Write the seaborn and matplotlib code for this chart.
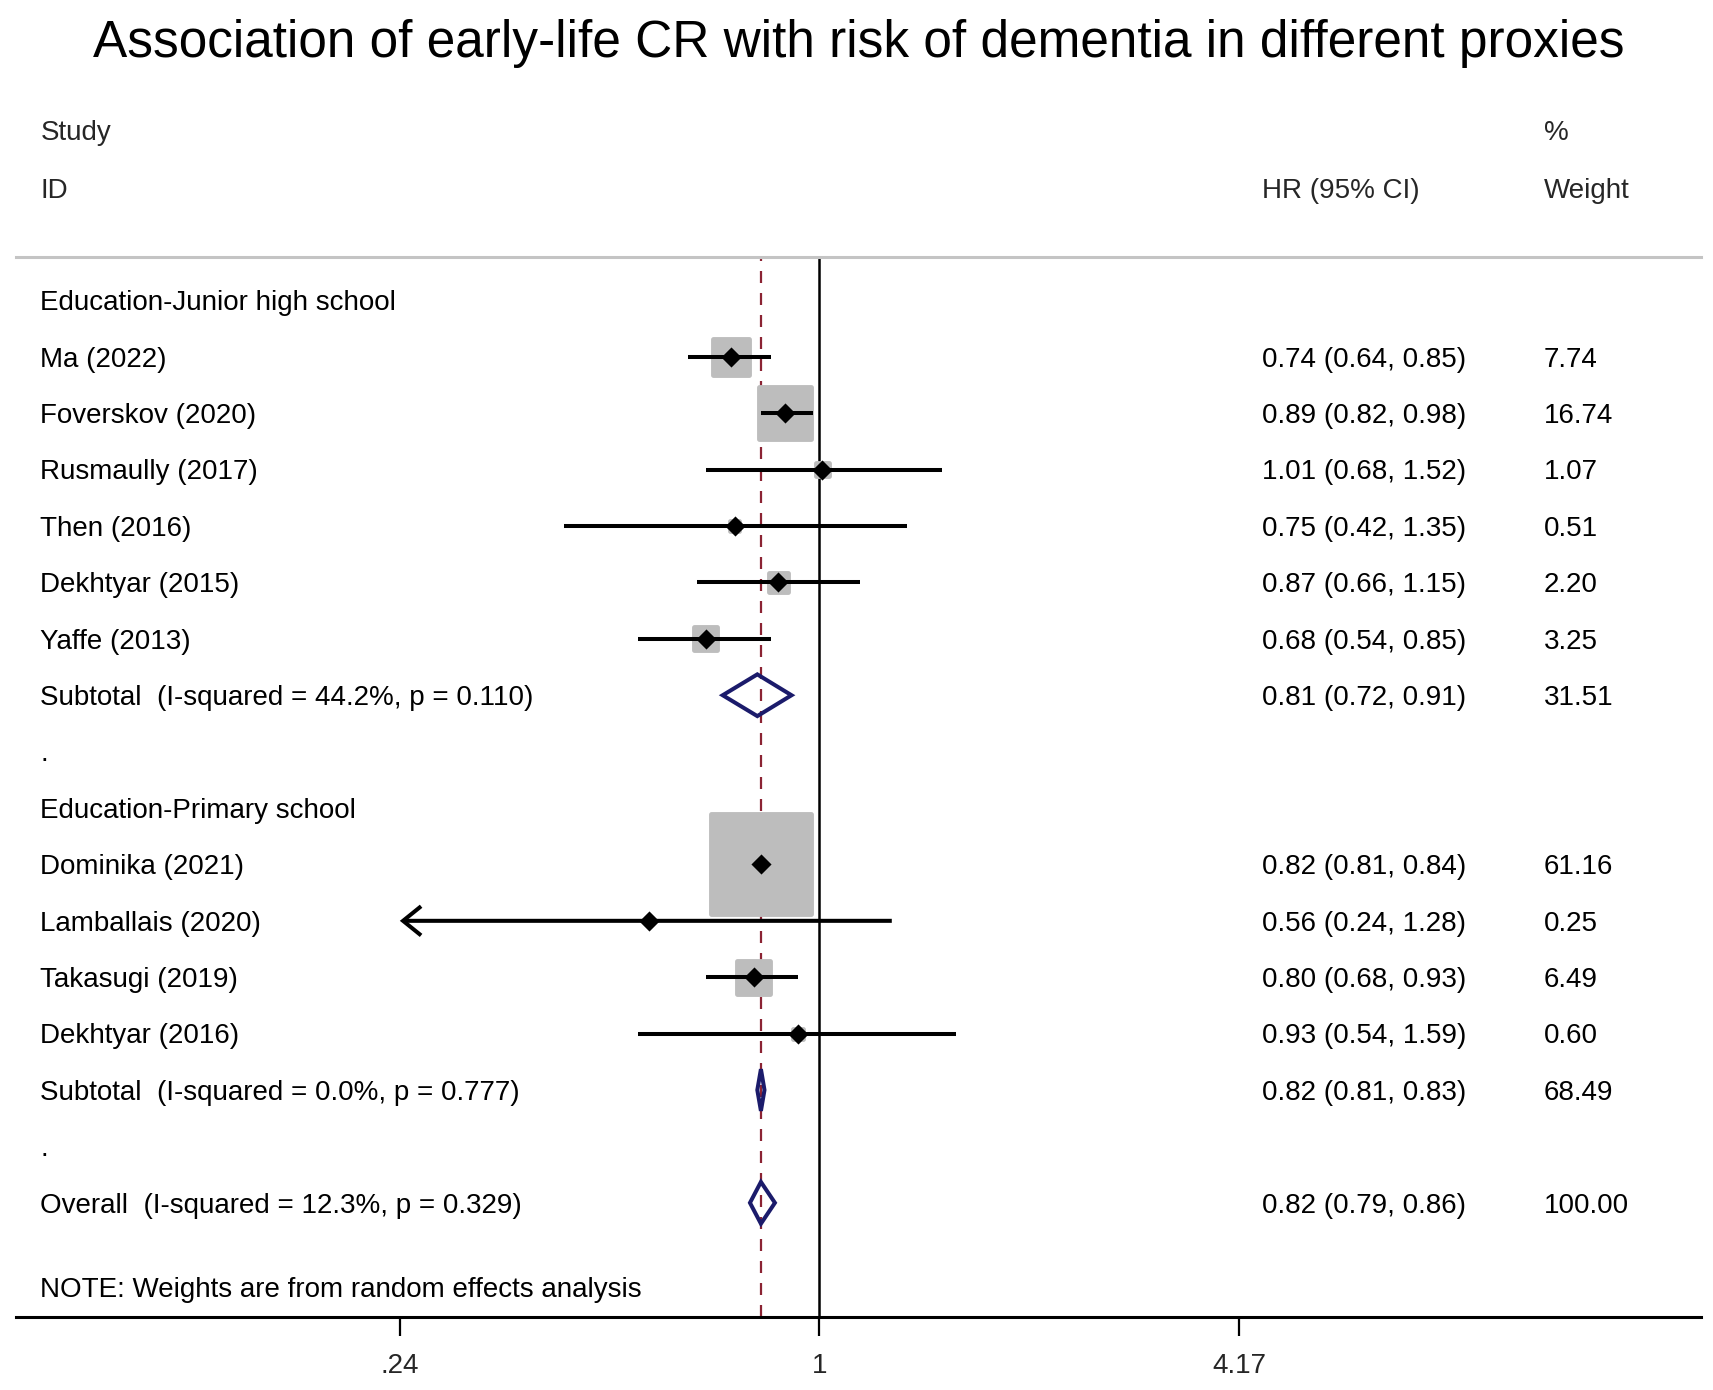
import numpy as np
import pandas as pd
import matplotlib
matplotlib.use("Agg")
import matplotlib.pyplot as plt
import seaborn as sns

# ---------------- data ----------------
title = "Association of early-life CR with risk of dementia in different proxies"
row_labels = [
    "Education-Junior high school",
    "Ma (2022)",
    "Foverskov (2020)",
    "Rusmaully (2017)",
    "Then (2016)",
    "Dekhtyar (2015)",
    "Yaffe (2013)",
    "Subtotal  (I-squared = 44.2%, p = 0.110)",
    ".",
    "Education-Primary school",
    "Dominika (2021)",
    "Lamballais (2020)",
    "Takasugi (2019)",
    "Dekhtyar (2016)",
    "Subtotal  (I-squared = 0.0%, p = 0.777)",
    ".",
    "Overall  (I-squared = 12.3%, p = 0.329)",
]
row_kind = ["head", "study", "study", "study", "study", "study", "study", "pooled", "blank",
            "head", "study", "study", "study", "study", "pooled", "blank", "pooled"]
hr = [np.nan, 0.74, 0.89, 1.01, 0.75, 0.87, 0.68, 0.81, np.nan,
      np.nan, 0.82, 0.56, 0.80, 0.93, 0.82, np.nan, 0.82]
lo = [np.nan, 0.64, 0.82, 0.68, 0.42, 0.66, 0.54, 0.72, np.nan,
      np.nan, 0.81, 0.24, 0.68, 0.54, 0.81, np.nan, 0.79]
hi = [np.nan, 0.85, 0.98, 1.52, 1.35, 1.15, 0.85, 0.91, np.nan,
      np.nan, 0.84, 1.28, 0.93, 1.59, 0.83, np.nan, 0.86]
weight = [np.nan, 7.74, 16.74, 1.07, 0.51, 2.20, 3.25, 31.51, np.nan,
          np.nan, 61.16, 0.25, 6.49, 0.60, 68.49, np.nan, 100.00]
overall_hr = 0.82
xtick_vals = [0.24, 1, 4.17]
xtick_labels = [".24", "1", "4.17"]
note = "NOTE: Weights are from random effects analysis"
hdr_left = ["Study", "ID"]
hdr_hr = "HR (95% CI)"
hdr_w = ["%", "Weight"]

df = pd.DataFrame({"label": row_labels, "kind": row_kind, "hr": hr, "lo": lo,
                   "hi": hi, "weight": weight})
df["row"] = np.arange(len(df))
studies = df[df.kind == "study"]
pooled = df[df.kind == "pooled"]

# ---------------- style ----------------
sns.set_theme(style="white")
plt.rcParams["font.family"] = ["Liberation Sans", "DejaVu Sans"]

FS = 20
NAVY = "#1B1B6B"
DRED = "#8B2333"
GRAY = "#BDBDBD"
CI_LW = 2.9
TOFF = 0.05  # text baseline nudge (rows)

fig = plt.figure(figsize=(17.13, 13.90), dpi=100)
ax = fig.add_axes([0.00957, 0.0527, 0.98341, 0.7626])
ax.set_xscale("log")
ax.set_xlim(0.0651, 20.09)
ax.set_ylim(18.02, -0.775)

# reference lines
ax.axvline(1, color="black", lw=1.8, zorder=1)
ax.axvline(overall_hr, color=DRED, lw=1.6, ls=(0, (5.4, 4.5)), zorder=1)

# weight boxes (area proportional to weight)
sns.scatterplot(data=studies, x="hr", y="row", size="weight", sizes=(0, 8490),
                size_norm=(0, 100), marker="s", color=GRAY, edgecolor=GRAY,
                linewidth=3.5, legend=False, ax=ax, zorder=2)

# confidence intervals
xmin_tick = xtick_vals[0]
for _, r in studies.iterrows():
    if r.lo <= xmin_tick:
        ax.annotate("", xy=(r.lo, r.row), xytext=(r.hi, r.row),
                    arrowprops=dict(arrowstyle="->,head_length=1.3,head_width=1.05",
                                    mutation_scale=10, color="black", lw=CI_LW,
                                    shrinkA=0, shrinkB=0, joinstyle="miter",
                                    capstyle="butt"),
                    zorder=3)
    else:
        ax.plot([r.lo, r.hi], [r.row, r.row], color="black", lw=CI_LW, zorder=3,
                solid_capstyle="butt")

# point estimates
sns.scatterplot(data=studies, x="hr", y="row", marker="D", s=105, color="black",
                edgecolor="black", linewidth=0, legend=False, ax=ax, zorder=4)

# pooled diamonds
hh = 0.37
for _, r in pooled.iterrows():
    ax.fill([r.lo, r.hr, r.hi, r.hr, r.lo], [r.row, r.row - hh, r.row, r.row + hh, r.row],
            fill=False, edgecolor=NAVY, lw=2.9, joinstyle="miter", zorder=4)

# text columns
tx = 0.01427
hx = 0.7393
wx = 0.9066
trans = ax.get_yaxis_transform()
for _, r in df.iterrows():
    ax.text(tx, r.row + TOFF, r.label, transform=trans, ha="left", va="center",
            fontsize=FS, color="black", clip_on=False)
    if r.kind in ("study", "pooled"):
        ax.text(hx, r.row + TOFF, f"{r.hr:.2f} ({r.lo:.2f}, {r.hi:.2f})", transform=trans,
                ha="left", va="center", fontsize=FS, color="black", clip_on=False)
        ax.text(wx, r.row + TOFF, f"{r.weight:.2f}", transform=trans, ha="left",
                va="center", fontsize=FS, color="black", clip_on=False)
ax.text(tx, 17.5 + TOFF, note, transform=trans, ha="left", va="center", fontsize=FS,
        color="black", clip_on=False)

# headers
ax.text(tx, -3.02 + TOFF, hdr_left[0], transform=trans, ha="left", va="center", fontsize=FS, clip_on=False)
ax.text(tx, -1.99 + TOFF, hdr_left[1], transform=trans, ha="left", va="center", fontsize=FS, clip_on=False)
ax.text(hx, -1.99 + TOFF, hdr_hr, transform=trans, ha="left", va="center", fontsize=FS, clip_on=False)
ax.text(wx, -3.02 + TOFF, hdr_w[0], transform=trans, ha="left", va="center", fontsize=FS, clip_on=False)
ax.text(wx, -1.99 + TOFF, hdr_w[1], transform=trans, ha="left", va="center", fontsize=FS, clip_on=False)

fig.text(0.5013, 0.9685, title, ha="center", va="center", fontsize=37, color="black")

# axes / spines
for s in ["left", "right"]:
    ax.spines[s].set_visible(False)
ax.spines["top"].set_color("#C4C4C4")
ax.spines["top"].set_linewidth(2.2)
ax.spines["bottom"].set_color("black")
ax.spines["bottom"].set_linewidth(2.2)
ax.set_yticks([])
ax.set_xticks(xtick_vals)
ax.set_xticklabels(xtick_labels)
ax.xaxis.set_minor_locator(matplotlib.ticker.NullLocator())
ax.tick_params(axis="x", which="major", direction="out", length=14, width=1.6,
               color="black", labelsize=FS, pad=12, bottom=True)
ax.set_xlabel("")
ax.set_ylabel("")
ax.grid(False)

fig.savefig("out.png", dpi=100, facecolor="white")
